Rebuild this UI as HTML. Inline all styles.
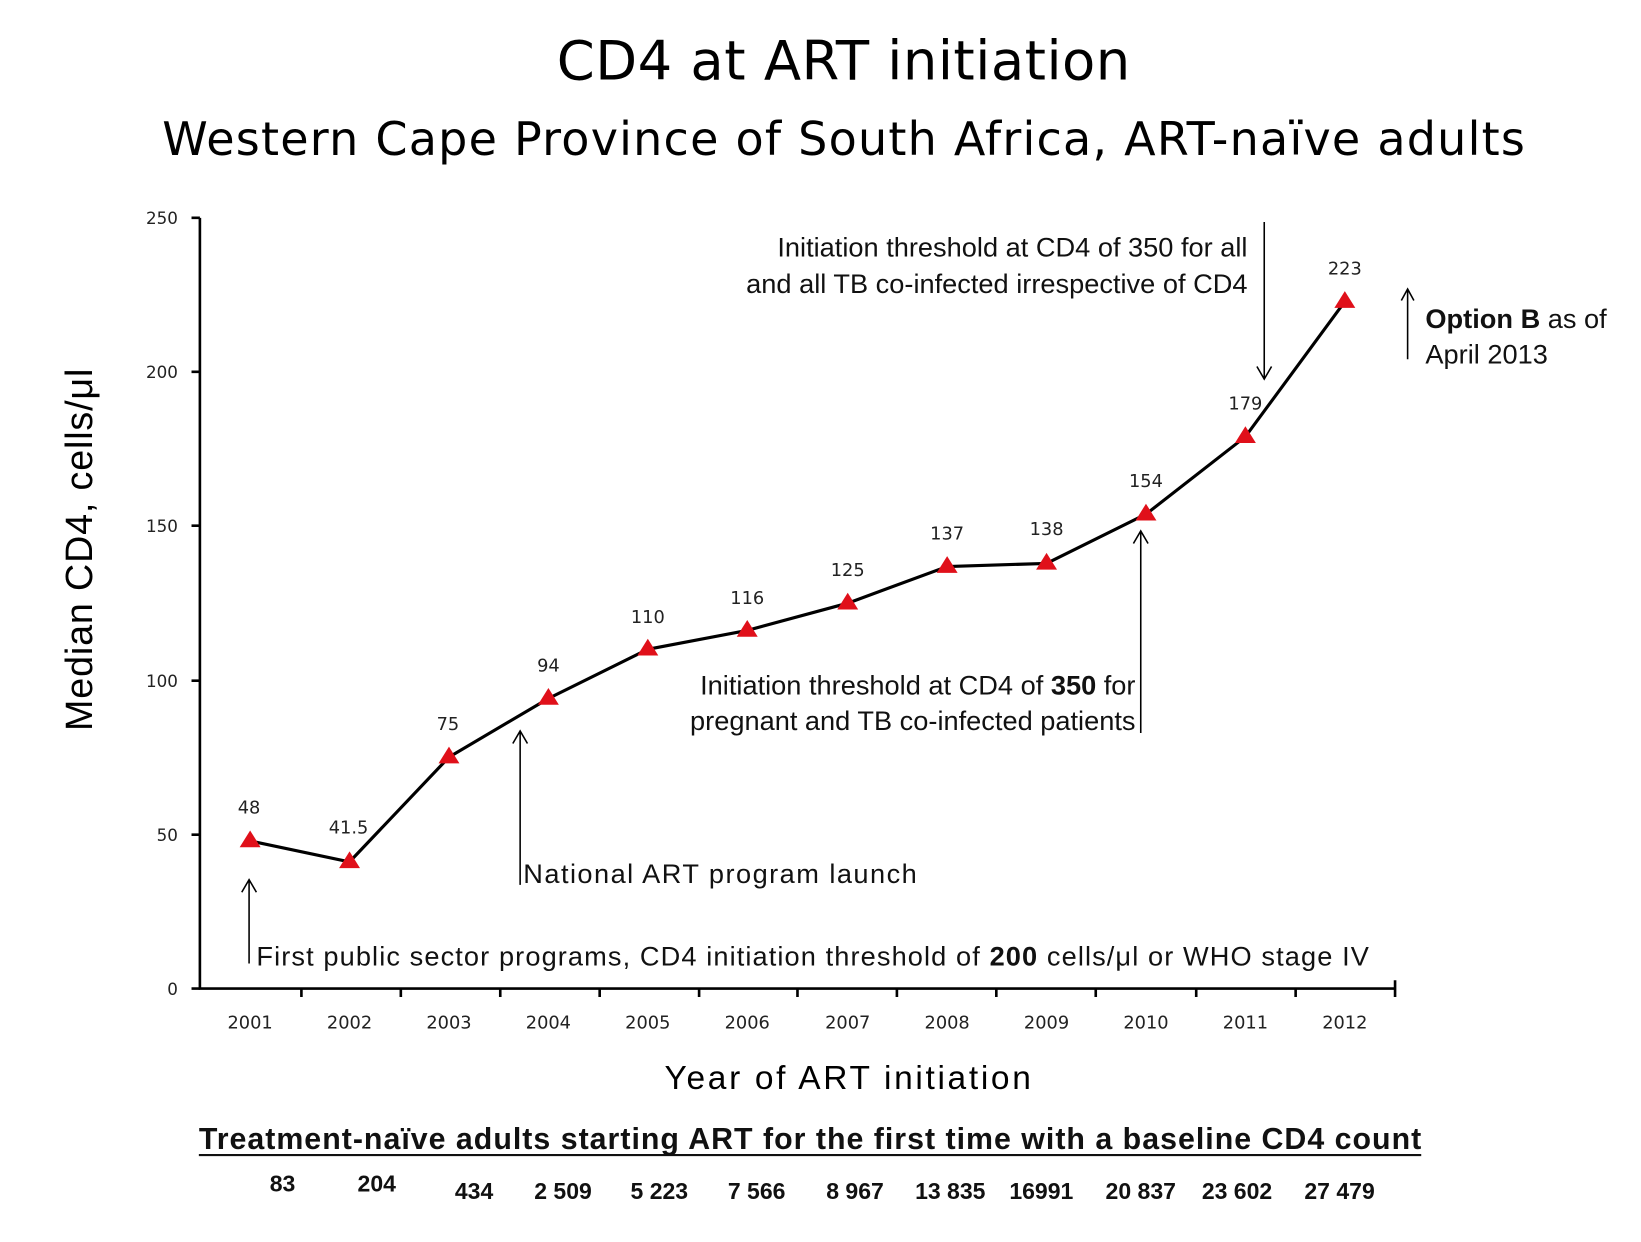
<!DOCTYPE html>
<html><head><meta charset="utf-8"><style>html,body{margin:0;padding:0;background:#fff}svg{display:block}</style></head>
<body>
<svg width="1641" height="1242" viewBox="0 0 1568 1186" preserveAspectRatio="none" xmlns="http://www.w3.org/2000/svg" font-family="Liberation Sans, DejaVu Sans, sans-serif">
<rect width="1568" height="1186" fill="#fff"/>
<text x="806" y="76" font-size="52" text-anchor="middle" font-family="DejaVu Sans, sans-serif" textLength="548">CD4 at ART initiation</text>
<text x="806" y="148" font-size="44" text-anchor="middle" font-family="DejaVu Sans, sans-serif" textLength="1302">Western Cape Province of South Africa, ART-naïve adults</text>
<text transform="translate(88,525) rotate(-90)" font-size="36" text-anchor="middle" textLength="346">Median CD4, cells/μl</text>
<g stroke="#000" stroke-width="2.5" fill="none">
<path d="M191,208 V944 H1333"/>
<path d="M183,208H191M183,355H191M183,502H191M183,650H191M183,797H191M183,944H191"/>
<path d="M288,944v8M383,944v8M478,944v8M573,944v8M668,944v8M762,944v8M857,944v8M952,944v8M1047,944v8M1143,944v8M1238,944v8M1333,944v-8v16"/>
</g>
<g font-family="DejaVu Sans, sans-serif" font-size="16" text-anchor="end" fill="#222">
<text x="170" y="214">250</text><text x="170" y="361">200</text><text x="170" y="508">150</text><text x="170" y="656">100</text><text x="170" y="803">50</text><text x="170" y="950">0</text>
</g>
<g font-family="DejaVu Sans, sans-serif" font-size="17" text-anchor="middle" fill="#222">
<text x="239" y="982">2001</text><text x="334" y="982">2002</text><text x="429" y="982">2003</text><text x="524" y="982">2004</text><text x="619" y="982">2005</text><text x="714" y="982">2006</text><text x="810" y="982">2007</text><text x="905" y="982">2008</text><text x="1000" y="982">2009</text><text x="1095" y="982">2010</text><text x="1190" y="982">2011</text><text x="1285" y="982">2012</text>
</g>
<polyline fill="none" stroke="#000" stroke-width="3" points="239,803 334,823 429,723 524,667 619,620 714,602 810,576 905,541 1000,538 1095,491 1190,417 1285,288"/>
<g fill="#e0101a">
<path d="M239,793l-10,16h20z"/><path d="M334,813l-10,16h20z"/><path d="M429,713l-10,16h20z"/><path d="M524,657l-10,16h20z"/><path d="M619,610l-10,16h20z"/><path d="M714,592l-10,16h20z"/><path d="M810,566l-10,16h20z"/><path d="M905,531l-10,16h20z"/><path d="M1000,528l-10,16h20z"/><path d="M1095,481l-10,16h20z"/><path d="M1190,407l-10,16h20z"/><path d="M1285,278l-10,16h20z"/>
</g>
<g font-family="DejaVu Sans, sans-serif" font-size="17" text-anchor="middle" fill="#222">
<text x="238" y="777">48</text><text x="333" y="796">41.5</text><text x="428" y="697">75</text><text x="524" y="641">94</text><text x="619" y="595">110</text><text x="714" y="577">116</text><text x="810" y="550">125</text><text x="905" y="515">137</text><text x="1000" y="511">138</text><text x="1095" y="465">154</text><text x="1190" y="391">179</text><text x="1285" y="262">223</text>
</g>
<g stroke="#000" stroke-width="1.5" fill="none">
<path d="M238,920V840M231,852l7,-12l7,12"/>
<path d="M497,845V698M490,710l7,-12l7,12"/>
<path d="M1090,700V507M1083,519l7,-12l7,12"/>
<path d="M1208,212V362M1201,350l7,12l7,-12"/>
<path d="M1345,343V276M1339,287l6,-11l6,11"/>
</g>
<g font-size="26" fill="#111">
<text x="245" y="922" textLength="1063">First public sector programs, CD4 initiation threshold of <tspan font-weight="bold">200</tspan> cells/μl or WHO stage IV</text>
<text x="500" y="843" textLength="376">National ART program launch</text>
<text x="1085" y="663" text-anchor="end">Initiation threshold at CD4 of <tspan font-weight="bold">350</tspan> for</text>
<text x="1085" y="697" text-anchor="end">pregnant and TB co-infected patients</text>
<text x="1192" y="245" text-anchor="end">Initiation threshold at CD4 of 350 for all</text>
<text x="1192" y="280" text-anchor="end">and all TB co-infected irrespective of CD4</text>
<text x="1362" y="313"><tspan font-weight="bold">Option B</tspan> as of</text>
<text x="1362" y="347">April 2013</text>
</g>
<text x="810" y="1040" font-size="32" text-anchor="middle" textLength="350">Year of ART initiation</text>
<text x="190" y="1097" font-size="29" font-weight="bold" textLength="1168" fill="#111">Treatment-naïve adults starting ART for the first time with a baseline CD4 count</text>
<line x1="190" y1="1103" x2="1358" y2="1103" stroke="#111" stroke-width="2"/>
<g font-size="22" font-weight="bold" text-anchor="middle" fill="#111">
<text x="270" y="1138">83</text><text x="360" y="1138">204</text><text x="453" y="1145">434</text><text x="538" y="1145">2 509</text><text x="630" y="1145">5 223</text><text x="723" y="1145">7 566</text><text x="817" y="1145">8 967</text><text x="908" y="1145">13 835</text><text x="995" y="1145">16991</text><text x="1090" y="1145">20 837</text><text x="1182" y="1145">23 602</text><text x="1280" y="1145">27 479</text>
</g>
</svg>
</body></html>
